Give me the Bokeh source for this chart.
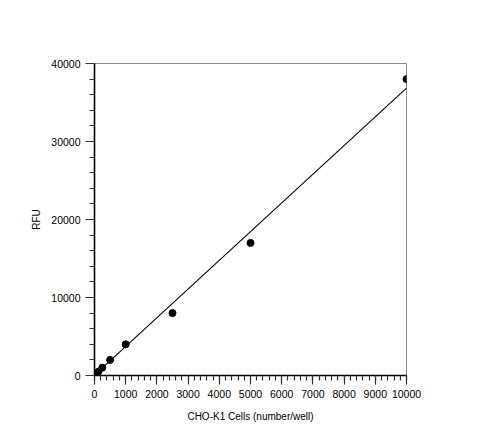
import numpy as np
from bokeh.plotting import figure
from bokeh.models import Range1d, SingleIntervalTicker, ColumnDataSource
from bokeh.embed import file_html
from bokeh.resources import INLINE

# Data
cells = [0, 62.5, 125, 250, 500, 1000, 2500, 5000, 10000]
rfu = [0, 250, 500, 1000, 2000, 4000, 8000, 17000, 38000]
fit_slope = 3.68
fit_intercept = 50
x_label = "CHO-K1 Cells (number/well)"
y_label = "RFU"

FONT = "Liberation Sans"

p = figure(width=492, height=429, output_backend="svg", toolbar_location=None,
           x_range=Range1d(0, 10000), y_range=Range1d(0, 40000),
           frame_width=312, frame_height=312,
           min_border_left=94, min_border_right=86, min_border_top=63, min_border_bottom=54)
p.xgrid.visible = False
p.ygrid.visible = False
p.outline_line_color = "#8a8a8a"
p.outline_line_width = 1
p.background_fill_color = "white"
p.border_fill_color = "white"

p.xaxis.ticker = SingleIntervalTicker(interval=1000, num_minor_ticks=5)
p.yaxis.ticker = SingleIntervalTicker(interval=10000, num_minor_ticks=5)

for ax in (p.xaxis, p.yaxis):
    ax.axis_line_color = "black"
    ax.axis_line_width = 1.6
    ax.major_tick_line_color = "#333333"
    ax.minor_tick_line_color = "#333333"
    ax.major_tick_line_width = 1.2
    ax.minor_tick_line_width = 1.2
    ax.major_tick_in = 0
    ax.minor_tick_in = 0
    ax.major_tick_out = 9
    ax.minor_tick_out = 5
    ax.major_label_text_font = FONT
    ax.major_label_text_font_size = "10.5px"
    ax.major_label_text_color = "black"
    ax.axis_label_text_font = FONT
    ax.axis_label_text_font_size = "10px"
    ax.axis_label_text_font_style = "normal"
    ax.axis_label_text_color = "black"
    ax.major_label_standoff = 5
    ax.axis_label_standoff = 10

p.xaxis.axis_label = x_label
p.yaxis.axis_label = y_label
p.xaxis.formatter.use_scientific = False
p.yaxis.formatter.use_scientific = False
p.yaxis.axis_label_standoff = 6

xs = np.array([0, 10000])
p.line(xs, fit_slope * xs + fit_intercept, line_color="black", line_width=1.1)

src = ColumnDataSource(dict(x=cells, y=rfu))
p.scatter("x", "y", source=src, size=7, fill_color="black", line_color="black")

open("out.html", "w").write(file_html(p, INLINE))
